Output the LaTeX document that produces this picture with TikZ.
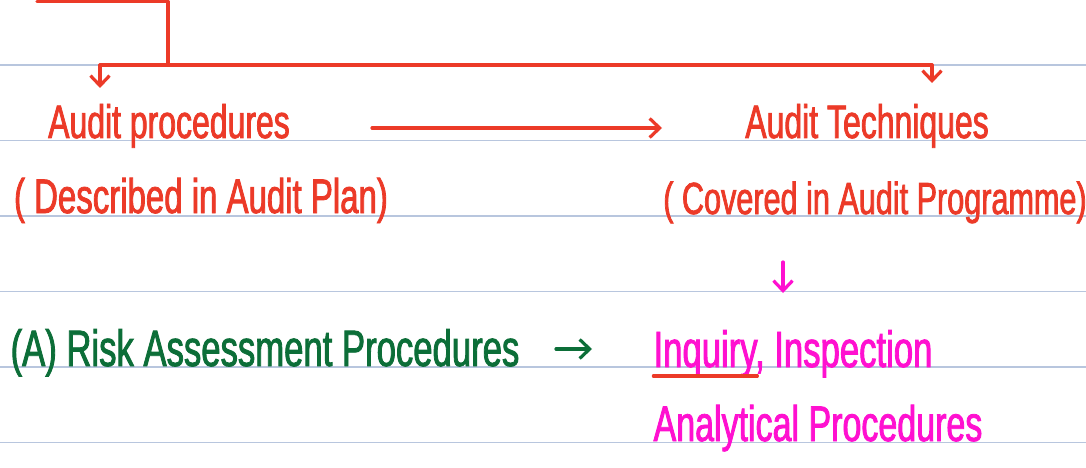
\documentclass[tikz,border=0pt]{standalone}
\usepackage{fontspec}
\usetikzlibrary{arrows.meta}
\newfontfamily\handfont[FakeStretch=0.68,FakeBold=1.6]{Liberation Sans}
\definecolor{inkred}{RGB}{236,58,40}
\definecolor{inkgreen}{RGB}{12,110,56}
\definecolor{inkpink}{RGB}{255,16,208}
\definecolor{ruling}{RGB}{184,198,222}
\tikzset{
  hand/.style={font=\handfont\fontsize{46}{50}\selectfont, inner sep=0pt, anchor=base},
  pen/.style={line width=3.2pt, line cap=round, line join=round},
  tip/.style={pen, -{Straight Barb[length=10pt,width=19pt]}},
}

\begin{document}
\begin{tikzpicture}[x=1pt,y=-1pt]
  \useasboundingbox[fill=white] (0,0) rectangle (1086,468);
  \foreach \y in {65,140.5,216,291.5,367,442.5}
    \draw[ruling,line width=1.4pt] (0,\y) -- (1086,\y);

  \coordinate (top) at (37,1.5);
  \coordinate (knee) at (168,1.5);
  \coordinate (split) at (168,65);
  \coordinate (lft) at (100,65);
  \coordinate (rgt) at (932,65);
  \coordinate (lfttip) at (100,88);
  \coordinate (rgttip) at (932,83);
  \coordinate (via1) at (372,128);
  \coordinate (via2) at (662,128);
  \coordinate (down1) at (783,262);
  \coordinate (down2) at (783,293);
  \coordinate (go1) at (556,349);
  \coordinate (go2) at (592,349);

  \node[hand,text=inkred,font=\handfont\fontsize{47}{50}\selectfont] (proc) at (169,138) {Audit procedures};
  \node[hand,text=inkred,font=\handfont\fontsize{48.5}{52}\selectfont] (plan) at (201,213) {( Described in Audit Plan)};
  \node[hand,text=inkred,font=\handfont\fontsize{47}{50}\selectfont] (tech) at (867,138) {Audit Techniques};
  \node[hand,text=inkred,font=\handfont\fontsize{45}{50}\selectfont] (prog) at (875,214) {( Covered in Audit Programme)};
  \node[hand,text=inkgreen,font=\handfont\fontsize{51}{54}\selectfont] (risk) at (265,366) {(A) Risk Assessment Procedures};
  \node[hand,text=inkpink,font=\handfont\fontsize{51}{54}\selectfont] (inq) at (793,367) {Inquiry, Inspection};
  \node[hand,text=inkpink,font=\handfont\fontsize{50}{54}\selectfont] (analyt) at (818,441) {Analytical Procedures};

  \draw[pen,inkred] (top) -- (knee) -- (split);
  \draw[pen,inkred] (lft) -- (rgt);
  \draw[tip,inkred] (lft) -- (lfttip);
  \draw[tip,inkred] (rgt) -- (rgttip);
  \draw[tip,inkred] (via1) -- (via2);
  \draw[tip,inkpink] (down1) -- (down2);
  \draw[tip,inkgreen] (go1) -- (go2);
  \draw[pen,inkred] (inq.base west) ++(0,9) -- ++(104,0);
\end{tikzpicture}
\end{document}
